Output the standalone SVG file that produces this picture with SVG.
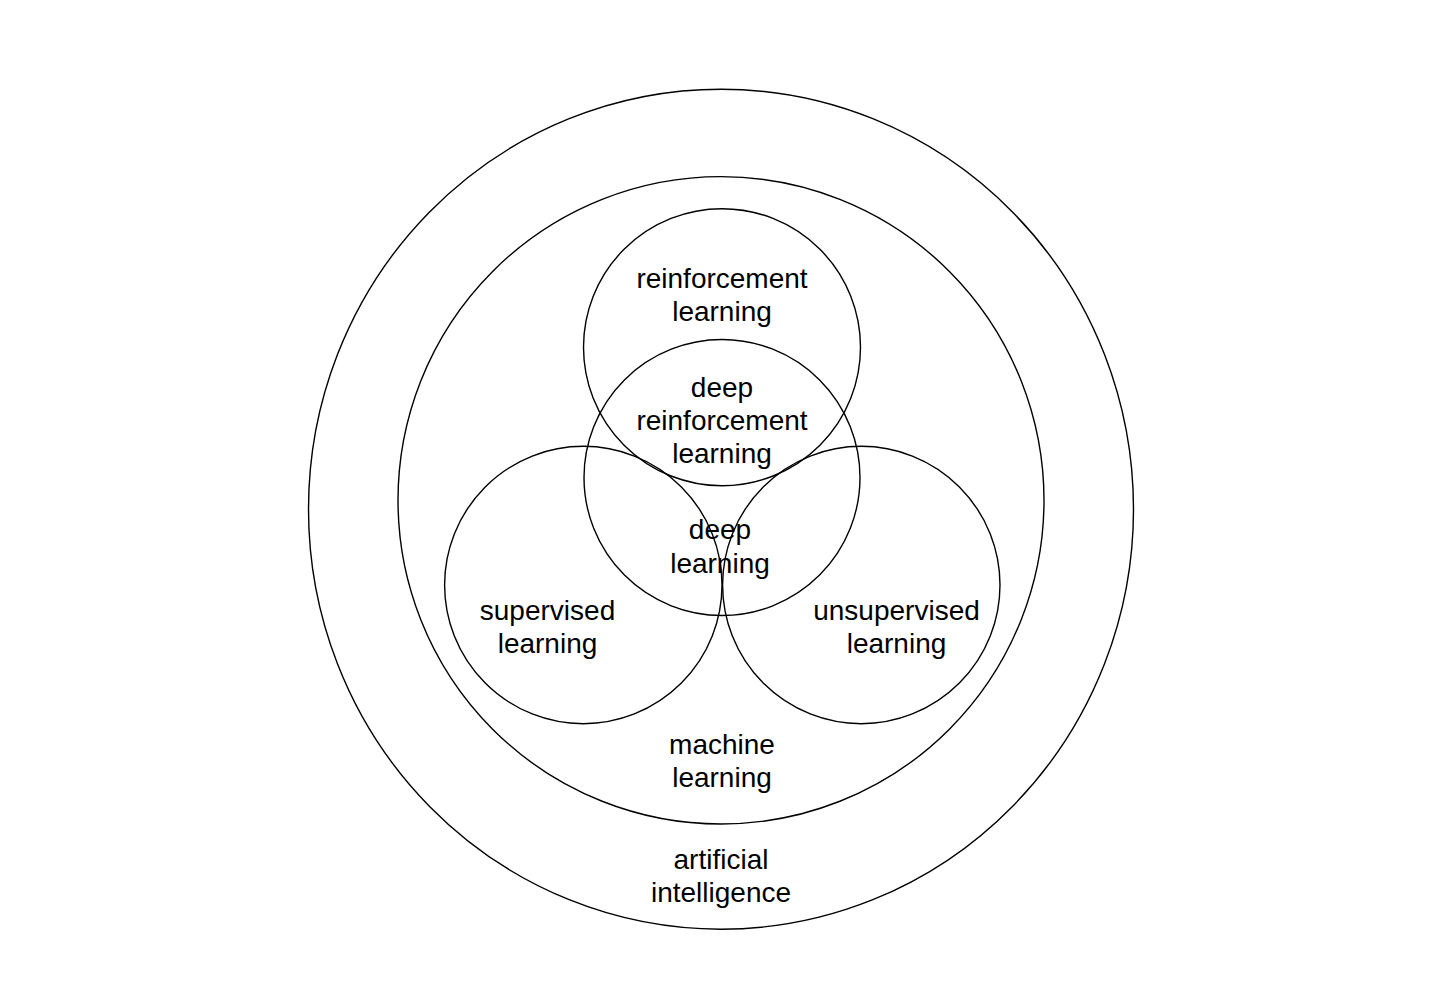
<svg xmlns="http://www.w3.org/2000/svg" width="1443" height="1008" viewBox="0 0 1443 1008">
<style>
.c{fill:none;stroke:#000;stroke-width:1.4}
.t{font-family:"Liberation Sans",Arial,sans-serif;font-size:28px;fill:#000;text-anchor:middle}
</style>
<rect width="1443" height="1008" fill="#fff"/>
<g id="ai"><ellipse class="c" cx="721" cy="509.2" rx="412.5" ry="420"/>
<text class="t" x="721" y="869.3">artificial</text><text class="t" x="721" y="901.5">intelligence</text></g>
<g id="ml"><ellipse class="c" cx="721" cy="500.3" rx="323" ry="323.7"/>
<text class="t" x="722" y="754.3">machine</text><text class="t" x="722" y="786.5">learning</text></g>
<g id="rl"><circle class="c" cx="722" cy="347.2" r="138.5"/>
<text class="t" x="722" y="287.7">reinforcement</text><text class="t" x="722" y="320.5">learning</text></g>
<g id="dl"><circle class="c" cx="722" cy="477.5" r="138"/>
<text class="t" x="720" y="539.3">deep</text><text class="t" x="720" y="572.7">learning</text></g>
<g id="drl"><text class="t" x="722" y="397">deep</text><text class="t" x="722" y="429.5">reinforcement</text><text class="t" x="722" y="462.7">learning</text></g>
<g id="sl"><circle class="c" cx="583.3" cy="585" r="138.7"/>
<text class="t" x="547.5" y="619.5">supervised</text><text class="t" x="547.5" y="652.7">learning</text></g>
<g id="ul"><circle class="c" cx="861.3" cy="585" r="138.7"/>
<text class="t" x="896.5" y="620.3">unsupervised</text><text class="t" x="896.5" y="652.7">learning</text></g>
<g id="connectors"></g>
</svg>
